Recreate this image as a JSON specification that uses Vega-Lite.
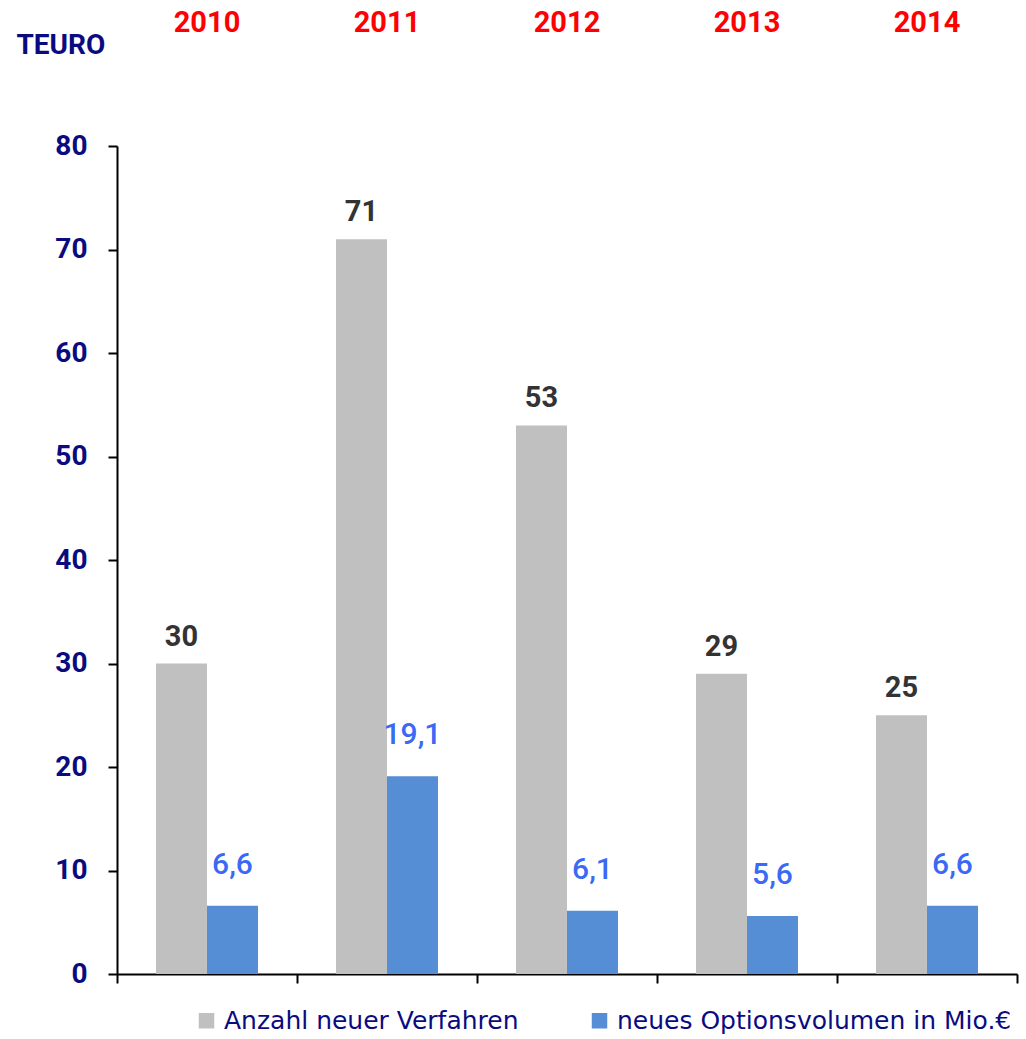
{
  "$schema": "https://vega.github.io/schema/vega-lite/v6.json",
  "width": 900,
  "height": 828,
  "autosize": {"type": "none"},
  "padding": {"left": 117, "top": 146, "right": 9, "bottom": 65},
  "background": "white",
  "config": {
    "locale": {"number": {"decimal": ",", "thousands": ".", "grouping": [3], "currency": ["", " €"]}},
    "view": {"stroke": null},
    "font": "Roboto"
  },
  "data": {
    "values": [
      {"year": "2010", "series": "Anzahl neuer Verfahren", "value": 30},
      {"year": "2011", "series": "Anzahl neuer Verfahren", "value": 71},
      {"year": "2012", "series": "Anzahl neuer Verfahren", "value": 53},
      {"year": "2013", "series": "Anzahl neuer Verfahren", "value": 29},
      {"year": "2014", "series": "Anzahl neuer Verfahren", "value": 25},
      {"year": "2010", "series": "neues Optionsvolumen in Mio.€", "value": 6.6},
      {"year": "2011", "series": "neues Optionsvolumen in Mio.€", "value": 19.1},
      {"year": "2012", "series": "neues Optionsvolumen in Mio.€", "value": 6.1},
      {"year": "2013", "series": "neues Optionsvolumen in Mio.€", "value": 5.6},
      {"year": "2014", "series": "neues Optionsvolumen in Mio.€", "value": 6.6}
    ]
  },
  "encoding": {
    "x": {
      "field": "year",
      "type": "nominal",
      "scale": {"paddingInner": 0, "paddingOuter": 0},
      "axis": {
        "orient": "bottom",
        "title": null,
        "labels": false,
        "domainColor": "black",
        "domainWidth": 2,
        "tickColor": "black",
        "tickWidth": 2,
        "tickSize": 9,
        "bandPosition": 1,
        "tickExtra": true,
        "grid": false
      }
    },
    "xOffset": {
      "field": "series",
      "type": "nominal",
      "sort": ["Anzahl neuer Verfahren", "neues Optionsvolumen in Mio.€"],
      "scale": {"paddingInner": 0, "paddingOuter": 0.765}
    },
    "y": {
      "field": "value",
      "type": "quantitative",
      "scale": {"domain": [0, 80], "nice": false},
      "axis": {
        "values": [0, 10, 20, 30, 40, 50, 60, 70, 80],
        "grid": false,
        "domainColor": "black",
        "domainWidth": 2,
        "tickColor": "black",
        "tickWidth": 2,
        "tickSize": 9,
        "labelPadding": 21,
        "labelFont": "Roboto",
        "labelFontWeight": "bold",
        "labelFontSize": 28,
        "labelColor": "#0b0b80",
        "title": "TEURO",
        "titleAngle": 0,
        "titleAlign": "left",
        "titleBaseline": "top",
        "titleX": -101,
        "titleY": -115,
        "titleFont": "Roboto",
        "titleFontWeight": "bold",
        "titleFontSize": 28,
        "titleColor": "#0b0b80"
      }
    }
  },
  "layer": [
    {
      "mark": {"type": "bar"},
      "encoding": {
        "color": {
          "field": "series",
          "type": "nominal",
          "scale": {
            "domain": ["Anzahl neuer Verfahren", "neues Optionsvolumen in Mio.€"],
            "range": ["#c0c0c0", "#558ed5"]
          },
          "legend": {
            "title": null,
            "orient": "none",
            "direction": "horizontal",
            "legendX": 77,
            "legendY": 862,
            "padding": 0,
            "symbolType": "square",
            "symbolSize": 240,
            "symbolStrokeWidth": 0,
            "labelFont": "DejaVu Sans",
            "labelFontSize": 25,
            "labelColor": "#0b0b80",
            "labelOffset": 5,
            "columnPadding": 68,
            "labelLimit": 500
          }
        }
      }
    },
    {
      "transform": [{"filter": "datum.series === 'Anzahl neuer Verfahren'"}],
      "mark": {
        "type": "text",
        "baseline": "bottom",
        "dy": -12,
        "font": "Roboto",
        "fontWeight": "bold",
        "fontSize": 29,
        "color": "#333333"
      },
      "encoding": {
        "text": {"field": "value", "type": "quantitative", "format": "d"},
        "x": {
          "field": "year",
          "type": "nominal",
          "axis": {
            "orient": "top",
            "title": null,
            "domain": false,
            "ticks": false,
            "tickSize": 0,
            "labelPadding": 109,
            "labelFont": "Roboto",
            "labelFontWeight": "bold",
            "labelFontSize": 29,
            "labelColor": "#ff0000",
            "labelAngle": 0,
            "grid": false
          }
        }
      }
    },
    {
      "transform": [{"filter": "datum.series !== 'Anzahl neuer Verfahren'"}],
      "mark": {
        "type": "text",
        "baseline": "bottom",
        "dy": -26,
        "font": "Roboto",
        "fontWeight": 500,
        "fontSize": 30,
        "color": "#3a6af5"
      },
      "encoding": {
        "text": {"field": "value", "type": "quantitative", "format": ".1f"},
        "x": {"field": "year", "type": "nominal", "axis": null}
      }
    }
  ],
  "resolve": {"axis": {"x": "independent"}}
}
